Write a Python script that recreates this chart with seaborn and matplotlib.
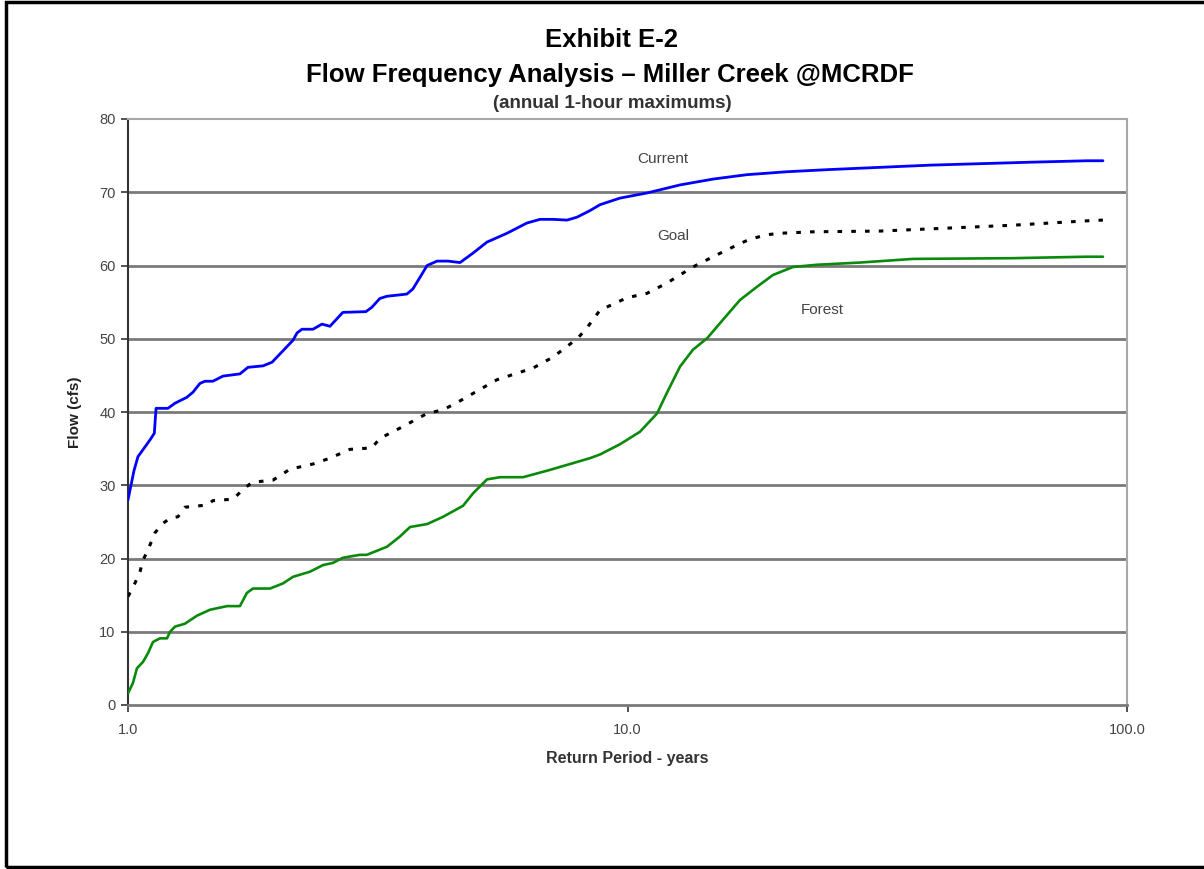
import matplotlib
matplotlib.use("Agg")
import matplotlib.pyplot as plt
import seaborn as sns
import pandas as pd
from matplotlib.patches import Rectangle
from matplotlib.ticker import FixedLocator, NullLocator

# ---- data ----
current_x = [1.00, 1.028, 1.047, 1.107, 1.129, 1.138, 1.202, 1.242, 1.311, 1.349, 1.393, 1.426,
             1.479, 1.549, 1.675, 1.739, 1.864, 1.943, 2.140, 2.180, 2.230, 2.346, 2.445, 2.537,
             2.692, 2.994, 3.078, 3.193, 3.299, 3.617, 3.718, 3.843, 3.970, 4.157, 4.373, 4.621,
             4.907, 5.233, 5.737, 6.290, 6.680, 7.097, 7.568, 7.925, 8.414, 8.81, 9.66, 10.94,
             12.74, 14.84, 17.35, 20.85, 25.41, 32.04, 40.34, 50.79, 63.94, 83.2, 89.5]
current_y = [28.0, 32.0, 33.9, 36.2, 37.1, 40.5, 40.5, 41.2, 42.0, 42.7, 43.9, 44.2,
             44.2, 44.9, 45.2, 46.1, 46.3, 46.8, 49.8, 50.8, 51.3, 51.3, 52.0, 51.7,
             53.6, 53.7, 54.3, 55.5, 55.8, 56.1, 56.8, 58.4, 60.0, 60.6, 60.6, 60.4,
             61.7, 63.2, 64.4, 65.8, 66.3, 66.3, 66.2, 66.6, 67.5, 68.3, 69.2, 69.9,
             71.0, 71.8, 72.4, 72.8, 73.1, 73.4, 73.7, 73.9, 74.1, 74.3, 74.3]

goal_x = [1.00, 1.032, 1.057, 1.072, 1.097, 1.132, 1.175, 1.214, 1.259, 1.300, 1.439, 1.479,
          1.623, 1.692, 1.771, 1.951, 2.111, 2.346, 2.537, 2.781, 3.078, 3.193, 3.503, 3.970,
          4.275, 4.562, 5.475, 6.469, 7.097, 7.958, 8.297, 8.810, 9.976, 10.94, 11.99, 13.52,
          14.84, 16.57, 17.59, 19.02, 20.19, 23.51, 32.04, 43.6, 59.1, 83.2, 89.5]
goal_y = [14.8, 16.6, 18.2, 19.8, 21.2, 23.5, 24.8, 25.5, 25.7, 27.0, 27.3, 27.9,
          28.1, 29.3, 30.4, 30.7, 32.2, 32.9, 33.7, 34.9, 35.1, 36.4, 37.8, 39.8,
          40.3, 41.3, 44.4, 46.0, 47.5, 50.1, 51.5, 53.9, 55.6, 56.2, 57.6, 59.8,
          61.2, 62.8, 63.6, 64.2, 64.4, 64.6, 64.7, 65.1, 65.5, 66.1, 66.2]

forest_x = [1.00, 1.023, 1.042, 1.072, 1.097, 1.122, 1.159, 1.197, 1.214, 1.242, 1.300, 1.375,
            1.459, 1.579, 1.675, 1.730, 1.779, 1.925, 2.043, 2.140, 2.314, 2.457, 2.572, 2.692,
            2.911, 3.006, 3.299, 3.503, 3.670, 3.970, 4.275, 4.686, 4.907, 5.233, 5.556, 6.182,
            6.998, 8.414, 8.81, 9.66, 10.59, 11.46, 11.99, 12.74, 13.52, 14.45, 15.53, 16.80,
            18.17, 19.55, 21.44, 23.94, 29.17, 37.3, 59.1, 83.2, 89.5]
forest_y = [1.6, 3.0, 5.0, 5.9, 7.1, 8.6, 9.1, 9.1, 10.0, 10.7, 11.1, 12.2,
            13.0, 13.5, 13.5, 15.3, 15.9, 15.9, 16.6, 17.5, 18.2, 19.1, 19.4, 20.1,
            20.5, 20.5, 21.6, 23.0, 24.3, 24.7, 25.7, 27.2, 28.9, 30.8, 31.1, 31.1,
            32.1, 33.7, 34.2, 35.6, 37.3, 39.8, 42.6, 46.2, 48.5, 50.1, 52.6, 55.3,
            57.1, 58.7, 59.8, 60.1, 60.4, 60.9, 61.0, 61.2, 61.2]

y_ticks = [0, 10, 20, 30, 40, 50, 60, 70, 80]
x_ticks = [1.0, 10.0, 100.0]
x_tick_labels = ["1.0", "10.0", "100.0"]

title_lines = ["Exhibit E-2", "Flow Frequency Analysis \u2013 Miller Creek @MCRDF"]
subtitle = "(annual 1-hour maximums)"

# ---- style ----
sns.set_theme(style="white")
plt.rcParams["font.family"] = ["Liberation Sans", "DejaVu Sans"]

fig = plt.figure(figsize=(12.04, 8.69), dpi=100)
ax = fig.add_axes([128 / 1204, 1 - 705 / 869, 999 / 1204, 586 / 869])

df_c = pd.DataFrame({"x": current_x, "y": current_y})
df_g = pd.DataFrame({"x": goal_x, "y": goal_y})
df_f = pd.DataFrame({"x": forest_x, "y": forest_y})

sns.lineplot(data=df_c, x="x", y="y", ax=ax, color="#0000ff", linewidth=2.0, sort=False, zorder=3)
sns.lineplot(data=df_f, x="x", y="y", ax=ax, color="#0a8a0a", linewidth=1.9, sort=False, zorder=3)
sns.lineplot(data=df_g, x="x", y="y", ax=ax, color="#000000", linewidth=2.2, sort=False, zorder=3,
             linestyle=(0, (1.5, 3)))

ax.set_xscale("log")
ax.set_xlim(1, 100)
ax.set_ylim(0, 80)
ax.xaxis.set_major_locator(FixedLocator(x_ticks))
ax.xaxis.set_minor_locator(NullLocator())
ax.set_xticklabels(x_tick_labels)
ax.set_yticks(y_ticks)

for v in y_ticks[1:-1]:
    ax.axhline(v, color="#7a7a7a", linewidth=2.0, zorder=1)

for s in ["top", "right"]:
    ax.spines[s].set_color("#a8a8a8")
    ax.spines[s].set_linewidth(1.5)
ax.spines["left"].set_color("#333333")
ax.spines["left"].set_linewidth(1.5)
ax.spines["bottom"].set_color("#7a7a7a")
ax.spines["bottom"].set_linewidth(2.0)

ax.tick_params(axis="both", which="major", direction="out", length=5, width=1.2,
               color="#333333", labelsize=10.5, labelcolor="#444444", bottom=True, left=True)
ax.tick_params(axis="x", pad=8)
ax.tick_params(axis="y", pad=4)

ax.set_xlabel("Return Period - years", fontsize=11.5, fontweight="bold", color="#333333", labelpad=10)
ax.set_ylabel("Flow (cfs)", fontsize=11, fontweight="bold", color="#222222", labelpad=12)

ax.text(0.5355, 0.932, "Current", transform=ax.transAxes, ha="center", va="center",
        fontsize=11, color="#444444")
ax.text(0.5455, 0.800, "Goal", transform=ax.transAxes, ha="center", va="center",
        fontsize=11, color="#444444")
ax.text(0.6947, 0.674, "Forest", transform=ax.transAxes, ha="center", va="center",
        fontsize=11, color="#444444")

fig.text(0.5075, 1 - 40 / 869, title_lines[0], ha="center", va="center", fontsize=18.5,
         fontweight="bold", color="#000000")
fig.text(0.5065, 1 - 75 / 869, title_lines[1], ha="center", va="center", fontsize=18.5,
         fontweight="bold", color="#000000")
fig.text(0.5085, 1 - 104 / 869, subtitle, ha="center", va="center", fontsize=13.5,
         fontweight="bold", color="#333333")

# figure frame
fig.patches.append(Rectangle((6 / 1204, 2 / 869), 1.2, 1 - 4 / 869, transform=fig.transFigure,
                             fill=False, edgecolor="black", linewidth=2.5, zorder=10))

fig.savefig("out.png", dpi=100, facecolor="white")
